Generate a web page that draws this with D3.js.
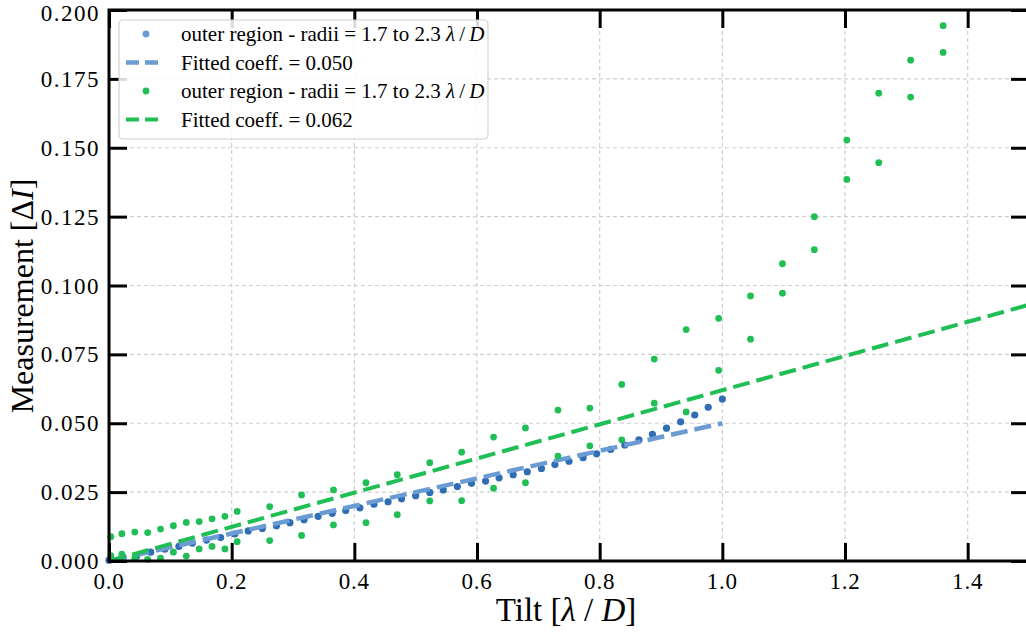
<!DOCTYPE html>
<html><head><meta charset="utf-8">
<script src="https://cdn.jsdelivr.net/npm/d3@7"></script>
<style>
body{margin:0;background:#fff;}
svg{display:block;font-family:"Liberation Serif","Times New Roman",serif;}
</style></head>
<body><svg id="chart" width="1026" height="632"></svg>
<script>
// ---- data ----
const blueX = [0.000,0.023,0.045,0.068,0.091,0.114,0.136,0.159,0.182,0.205,0.227,0.250,0.273,0.295,0.318,0.341,0.364,0.386,0.409,0.432,0.455,0.477,0.500,0.523,0.545,0.568,0.591,0.614,0.636,0.659,0.682,0.705,0.727,0.750,0.773,0.795,0.818,0.841,0.864,0.886,0.909,0.932,0.955,0.977,1.000];
const blueY = [0.0003,0.0013,0.0018,0.0032,0.0043,0.0053,0.0065,0.0076,0.0085,0.0098,0.0109,0.0118,0.0128,0.0139,0.0150,0.0162,0.0173,0.0183,0.0193,0.0206,0.0215,0.0226,0.0237,0.0249,0.0258,0.0270,0.0282,0.0290,0.0302,0.0313,0.0324,0.0336,0.0350,0.0362,0.0375,0.0389,0.0405,0.0421,0.0440,0.0460,0.0482,0.0505,0.0530,0.0558,0.0588];
const greenX = [0.003,0.021,0.042,0.063,0.084,0.105,0.126,0.147,0.168,0.189,0.209,0.262,0.314,0.366,0.419,0.470,0.523,0.575,0.627,0.679,0.732,0.784,0.836,0.889,0.941,0.994,1.046,1.098,1.150,1.203,1.255,1.307,1.360];
const greenUpper = [0.0088,0.0099,0.0105,0.0103,0.0116,0.0128,0.0140,0.0143,0.0153,0.0162,0.0180,0.0197,0.0240,0.0258,0.0284,0.0313,0.0357,0.0395,0.0450,0.0483,0.0548,0.0555,0.0641,0.0733,0.0840,0.0881,0.0962,0.1079,0.1250,0.1528,0.1698,0.1818,0.1943];
const greenLower = [0.0019,0.0025,0.0010,0.0006,0.0010,0.0032,0.0018,0.0044,0.0053,0.0044,0.0070,0.0074,0.0093,0.0131,0.0139,0.0168,0.0218,0.0219,0.0264,0.0284,0.0381,0.0418,0.0440,0.0573,0.0541,0.0692,0.0805,0.0972,0.1130,0.1385,0.1446,0.1684,0.1846];
const blueCoeff = 0.050, blueFitX = [0, 1.0];
const greenCoeff = 0.062, greenFitX = [0, 1.5];
const xTicks = [0.0,0.2,0.4,0.6,0.8,1.0,1.2,1.4];
const yTicks = [0.000,0.025,0.050,0.075,0.100,0.125,0.150,0.175,0.200];
const legendLabels = ["outer region - radii = 1.7 to 2.3 ", "Fitted coeff. = 0.050", "outer region - radii = 1.7 to 2.3 ", "Fitted coeff. = 0.062"];

// ---- layout ----
const L = 109, R = 1029, T = 10, B = 561;
const blue = "#2f6db5", blueLine = "#6a9bd3", green = "#1fbf55";
const svg = d3.select("#chart");
const x = d3.scaleLinear().domain([0, 1.5]).range([L, R]);
const y = d3.scaleLinear().domain([0, 0.2]).range([B, T]);

// grid
const g = svg.append("g");
g.selectAll(".gx").data(xTicks.slice(1)).enter().append("line")
  .attr("x1", d => x(d)).attr("x2", d => x(d)).attr("y1", T).attr("y2", B)
  .attr("stroke", "#cfcfcf").attr("stroke-width", 1.2).attr("stroke-dasharray", "4,3");
g.selectAll(".gy").data(yTicks.slice(1, -1)).enter().append("line")
  .attr("y1", d => y(d)).attr("y2", d => y(d)).attr("x1", L).attr("x2", R)
  .attr("stroke", "#cfcfcf").attr("stroke-width", 1.2).attr("stroke-dasharray", "4,3");

const plot = svg.append("g");
const line = d3.line().x(d => x(d[0])).y(d => y(d[1]));

// blue points
plot.selectAll(".bp").data(blueX.map((v, i) => [v, blueY[i]])).enter().append("circle")
  .attr("cx", d => x(d[0])).attr("cy", d => y(d[1])).attr("r", 3.6).attr("fill", blue);
// blue fit
plot.append("path").datum(blueFitX.map(v => [v, v * blueCoeff])).attr("d", line)
  .attr("fill", "none").attr("stroke", blueLine).attr("stroke-width", 4.5).attr("stroke-dasharray", "17,7");
// green points
const gPts = [];
greenX.forEach((v, i) => { gPts.push([v, greenUpper[i]]); gPts.push([v, greenLower[i]]); });
plot.selectAll(".gp").data(gPts).enter().append("circle")
  .attr("cx", d => x(d[0])).attr("cy", d => y(d[1])).attr("r", 3.4).attr("fill", green);
// green fit
plot.append("path").datum(greenFitX.map(v => [v, v * greenCoeff])).attr("d", line)
  .attr("fill", "none").attr("stroke", green).attr("stroke-width", 4).attr("stroke-dasharray", "17,7");

// axes (ticks inside)
const ax = svg.append("g");
const xAxisB = d3.axisBottom(x).tickValues(xTicks).tickSize(-18).tickFormat("");
const xAxisT = d3.axisTop(x).tickValues(xTicks).tickSize(-18).tickFormat("");
const yAxisL = d3.axisLeft(y).tickValues(yTicks).tickSize(-18).tickFormat("");
const yAxisR = d3.axisRight(y).tickValues(yTicks).tickSize(-18).tickFormat("");
[[xAxisB, `translate(0,${B})`], [xAxisT, `translate(0,${T})`], [yAxisL, `translate(${L},0)`], [yAxisR, `translate(${R},0)`]].forEach(([a, tr]) => {
  const gg = ax.append("g").attr("transform", tr).call(a);
  gg.select(".domain").remove();
  gg.selectAll("line").attr("stroke", "#000").attr("stroke-width", 3);
});
// spines
ax.append("rect").attr("x", L).attr("y", T).attr("width", R - L).attr("height", B - T)
  .attr("fill", "none").attr("stroke", "#000").attr("stroke-width", 3);

// tick labels
ax.selectAll(".xl").data(xTicks).enter().append("text")
  .attr("x", d => x(d)).attr("y", B + 28).attr("text-anchor", "middle")
  .attr("font-size", 23).attr("letter-spacing", 0.8).text(d => d3.format(".1f")(d));
ax.selectAll(".yl").data(yTicks).enter().append("text")
  .attr("x", L - 9).attr("y", d => Math.max(y(d) + 8, 21)).attr("text-anchor", "end")
  .attr("font-size", 23).attr("letter-spacing", 1.5).text(d => d3.format(".3f")(d));

// axis titles
const xt = svg.append("text").attr("x", (L + R) / 2 - 3).attr("y", 621).attr("text-anchor", "middle").attr("font-size", 33);
xt.append("tspan").text("Tilt [");
xt.append("tspan").attr("font-style", "italic").text("λ");
xt.append("tspan").text(" / ");
xt.append("tspan").attr("font-style", "italic").text("D");
xt.append("tspan").text("]");
const yt = svg.append("text").attr("transform", `translate(33,296) rotate(-90)`).attr("text-anchor", "middle").attr("font-size", 32);
yt.append("tspan").text("Measurement [Δ");
yt.append("tspan").attr("font-style", "italic").text("I");
yt.append("tspan").text("]");

// legend
const lg = svg.append("g");
lg.append("rect").attr("x", 119).attr("y", 20).attr("width", 369).attr("height", 119).attr("rx", 4)
  .attr("fill", "rgba(255,255,255,0.85)").attr("stroke", "#d0d0d0").attr("stroke-width", 1.2);
const rows = [34, 62.5, 91, 119.5];
lg.append("circle").attr("cx", 146).attr("cy", rows[0]).attr("r", 3.4).attr("fill", "#6a9bd3");
lg.append("line").attr("x1", 126).attr("x2", 162).attr("y1", rows[1]).attr("y2", rows[1])
  .attr("stroke", blueLine).attr("stroke-width", 4.5).attr("stroke-dasharray", "13,6");
lg.append("circle").attr("cx", 146).attr("cy", rows[2]).attr("r", 3.4).attr("fill", green);
lg.append("line").attr("x1", 126).attr("x2", 162).attr("y1", rows[3]).attr("y2", rows[3])
  .attr("stroke", green).attr("stroke-width", 4).attr("stroke-dasharray", "13,6");
legendLabels.forEach((s, i) => {
  const t = lg.append("text").attr("x", 181).attr("y", rows[i] + 7).attr("font-size", 21);
  t.append("tspan").text(s);
  if (i % 2 === 0) {
    t.append("tspan").attr("font-style", "italic").text("λ");
    t.append("tspan").text("\u2009/\u2009");
    t.append("tspan").attr("font-style", "italic").text("D");
  }
});
</script></body></html>
